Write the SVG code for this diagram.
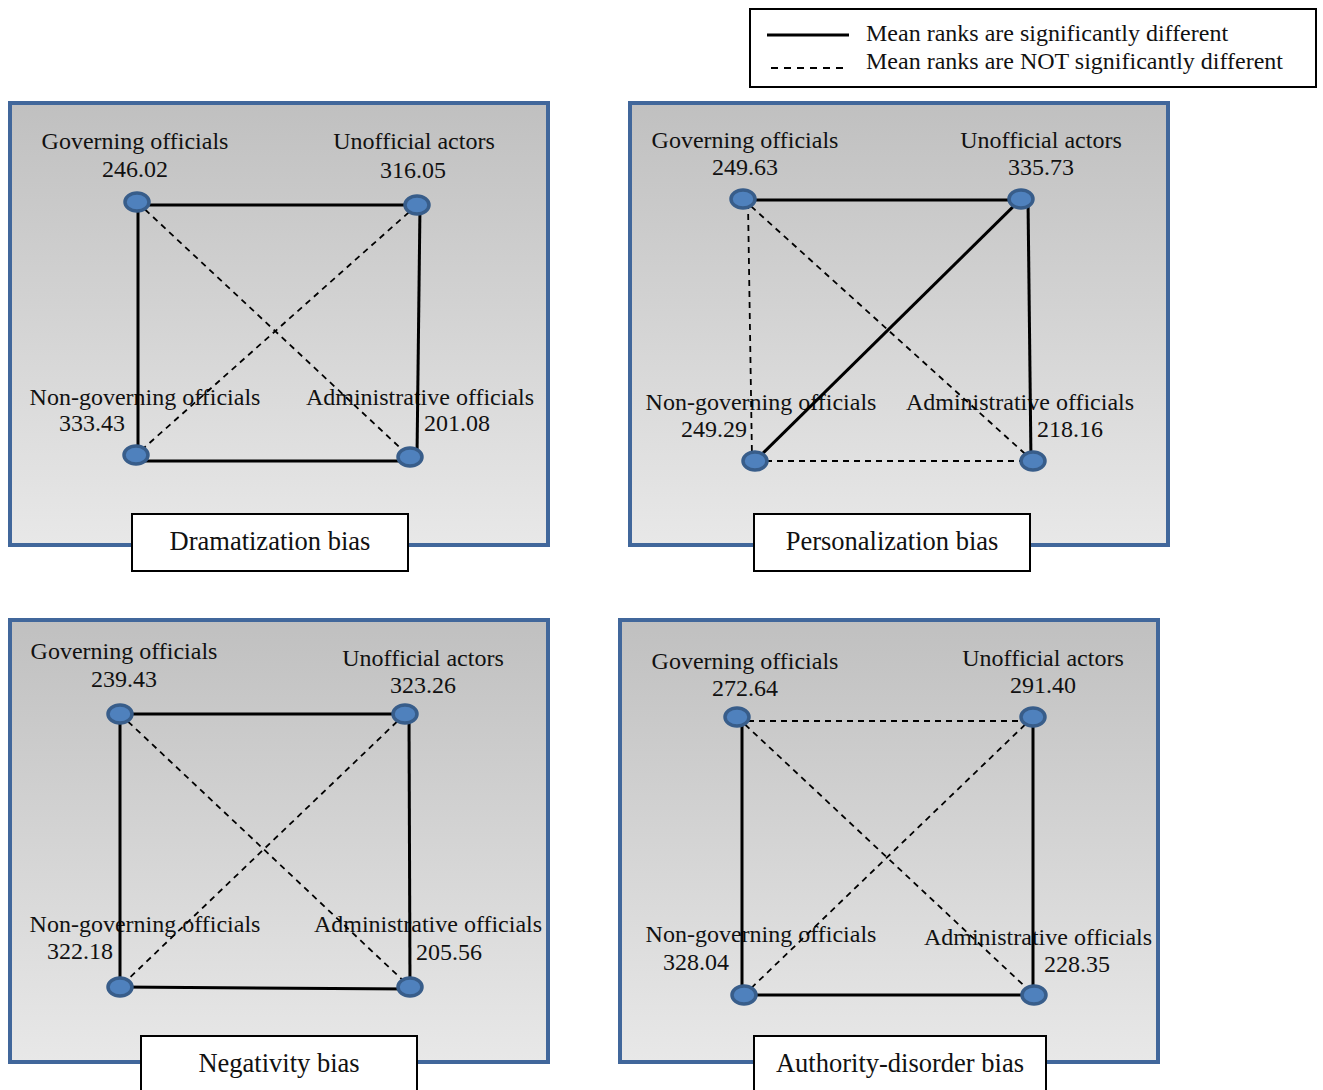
<svg xmlns="http://www.w3.org/2000/svg" width="1323" height="1090" viewBox="0 0 1323 1090">
<defs>
<linearGradient id="pg" x1="0" y1="0" x2="0" y2="1">
<stop offset="0" stop-color="#c0c0c0"/>
<stop offset="1" stop-color="#e8e8e8"/>
</linearGradient>
</defs>
<style>
text{font-family:"Liberation Serif","Times New Roman",serif;font-size:24px;fill:#111}
.m{text-anchor:middle}
.t{font-size:26.5px;text-anchor:middle}
.panel{fill:url(#pg);stroke:#41679b;stroke-width:4}
.title{fill:#fff;stroke:#000;stroke-width:2}
.s{stroke:#000;stroke-width:3;fill:none}
.d{stroke:#000;stroke-width:1.8;fill:none;stroke-dasharray:6 5}
.node{fill:#4f81bd;stroke:#385d8a;stroke-width:3.5}
</style>
<rect width="1323" height="1090" fill="#fff"/>

<g id="legend">
<rect x="750" y="9" width="566" height="78" fill="#fff" stroke="#000" stroke-width="2"/>
<line x1="767" y1="35" x2="849" y2="35" stroke="#000" stroke-width="3"/>
<line x1="771" y1="68" x2="849" y2="68" stroke="#000" stroke-width="2" stroke-dasharray="7 6"/>
<text x="866" y="41">Mean ranks are significantly different</text>
<text x="866" y="69">Mean ranks are NOT significantly different</text>
</g>

<!-- Panel 1 -->
<g id="panel-dramatization">
<rect class="panel" x="10" y="103" width="538" height="442"/>
<text class="m" x="135" y="149">Governing officials</text>
<text class="m" x="135" y="177">246.02</text>
<text class="m" x="414" y="149">Unofficial actors</text>
<text class="m" x="413" y="178">316.05</text>
<text class="m" x="145" y="405">Non-governing officials</text>
<text class="m" x="92" y="431">333.43</text>
<text class="m" x="420" y="405">Administrative officials</text>
<text x="424" y="431">201.08</text>
</g>
<g id="connectors-dramatization">
<line class="s" x1="137" y1="205" x2="417" y2="205"/>
<line class="s" x1="138" y1="205" x2="138" y2="455"/>
<line class="s" x1="420" y1="205" x2="417" y2="457"/>
<line class="s" x1="136" y1="461" x2="410" y2="461"/>
<line class="d" x1="137" y1="202" x2="410" y2="457"/>
<line class="d" x1="417" y1="205" x2="136" y2="455"/>
</g>
<g id="nodes-dramatization">
<g id="d-go"><ellipse class="node" cx="137" cy="202" rx="12" ry="9"/></g>
<g id="d-ua"><ellipse class="node" cx="417" cy="205" rx="12" ry="9"/></g>
<g id="d-ngo"><ellipse class="node" cx="136" cy="455" rx="12" ry="9"/></g>
<g id="d-ao"><ellipse class="node" cx="410" cy="457" rx="12" ry="9"/></g>
</g>
<g id="title-dramatization">
<rect class="title" x="132" y="514" width="276" height="57"/>
<text class="t" x="270" y="550">Dramatization bias</text>
</g>

<!-- Panel 2 -->
<g id="panel-personalization">
<rect class="panel" x="630" y="103" width="538" height="442"/>
<text class="m" x="745" y="148">Governing officials</text>
<text class="m" x="745" y="175">249.63</text>
<text class="m" x="1041" y="148">Unofficial actors</text>
<text class="m" x="1041" y="175">335.73</text>
<text class="m" x="761" y="410">Non-governing officials</text>
<text class="m" x="714" y="437">249.29</text>
<text class="m" x="1020" y="410">Administrative officials</text>
<text x="1037" y="437">218.16</text>
</g>
<g id="connectors-personalization">
<line class="s" x1="743" y1="200" x2="1021" y2="200"/>
<line class="d" x1="748" y1="203" x2="752" y2="458"/>
<line class="s" x1="1021" y1="199" x2="755" y2="461"/>
<line class="s" x1="1028" y1="199" x2="1031" y2="461"/>
<line class="d" x1="755" y1="461" x2="1033" y2="461"/>
<line class="d" x1="743" y1="199" x2="1033" y2="461"/>
</g>
<g id="nodes-personalization">
<g id="p-go"><ellipse class="node" cx="743" cy="199" rx="12" ry="9"/></g>
<g id="p-ua"><ellipse class="node" cx="1021" cy="199" rx="12" ry="9"/></g>
<g id="p-ngo"><ellipse class="node" cx="755" cy="461" rx="12" ry="9"/></g>
<g id="p-ao"><ellipse class="node" cx="1033" cy="461" rx="12" ry="9"/></g>
</g>
<g id="title-personalization">
<rect class="title" x="754" y="514" width="276" height="57"/>
<text class="t" x="892" y="550">Personalization bias</text>
</g>

<!-- Panel 3 -->
<g id="panel-negativity">
<rect class="panel" x="10" y="620" width="538" height="442"/>
<text class="m" x="124" y="659">Governing officials</text>
<text class="m" x="124" y="687">239.43</text>
<text class="m" x="423" y="666">Unofficial actors</text>
<text class="m" x="423" y="693">323.26</text>
<text class="m" x="145" y="932">Non-governing officials</text>
<text class="m" x="80" y="959">322.18</text>
<text class="m" x="428" y="932">Administrative officials</text>
<text x="416" y="960">205.56</text>
</g>
<g id="connectors-negativity">
<line class="s" x1="120" y1="714" x2="405" y2="714"/>
<line class="s" x1="120" y1="714" x2="120" y2="987"/>
<line class="s" x1="409" y1="714" x2="410" y2="987"/>
<line class="s" x1="120" y1="987" x2="410" y2="989"/>
<line class="d" x1="120" y1="714" x2="410" y2="987"/>
<line class="d" x1="405" y1="714" x2="120" y2="987"/>
</g>
<g id="nodes-negativity">
<g id="n-go"><ellipse class="node" cx="120" cy="714" rx="12" ry="9"/></g>
<g id="n-ua"><ellipse class="node" cx="405" cy="714" rx="12" ry="9"/></g>
<g id="n-ngo"><ellipse class="node" cx="120" cy="987" rx="12" ry="9"/></g>
<g id="n-ao"><ellipse class="node" cx="410" cy="987" rx="12" ry="9"/></g>
</g>
<g id="title-negativity">
<rect class="title" x="141" y="1036" width="276" height="60"/>
<text class="t" x="279" y="1072">Negativity bias</text>
</g>

<!-- Panel 4 -->
<g id="panel-authority">
<rect class="panel" x="620" y="620" width="538" height="442"/>
<text class="m" x="745" y="669">Governing officials</text>
<text class="m" x="745" y="696">272.64</text>
<text class="m" x="1043" y="666">Unofficial actors</text>
<text class="m" x="1043" y="693">291.40</text>
<text class="m" x="761" y="942">Non-governing officials</text>
<text class="m" x="696" y="970">328.04</text>
<text class="m" x="1038" y="945">Administrative officials</text>
<text class="m" x="1077" y="972">228.35</text>
</g>
<g id="connectors-authority">
<line class="d" x1="737" y1="721" x2="1033" y2="721"/>
<line class="s" x1="742" y1="717" x2="742" y2="995"/>
<line class="s" x1="1033" y1="717" x2="1033" y2="995"/>
<line class="s" x1="744" y1="995" x2="1034" y2="995"/>
<line class="d" x1="737" y1="717" x2="1034" y2="995"/>
<line class="d" x1="1033" y1="717" x2="744" y2="995"/>
</g>
<g id="nodes-authority">
<g id="a-go"><ellipse class="node" cx="737" cy="717" rx="12" ry="9"/></g>
<g id="a-ua"><ellipse class="node" cx="1033" cy="717" rx="12" ry="9"/></g>
<g id="a-ngo"><ellipse class="node" cx="744" cy="995" rx="12" ry="9"/></g>
<g id="a-ao"><ellipse class="node" cx="1034" cy="995" rx="12" ry="9"/></g>
</g>
<g id="title-authority">
<rect class="title" x="754" y="1036" width="292" height="60"/>
<text class="t" x="900" y="1072">Authority-disorder bias</text>
</g>
</svg>
